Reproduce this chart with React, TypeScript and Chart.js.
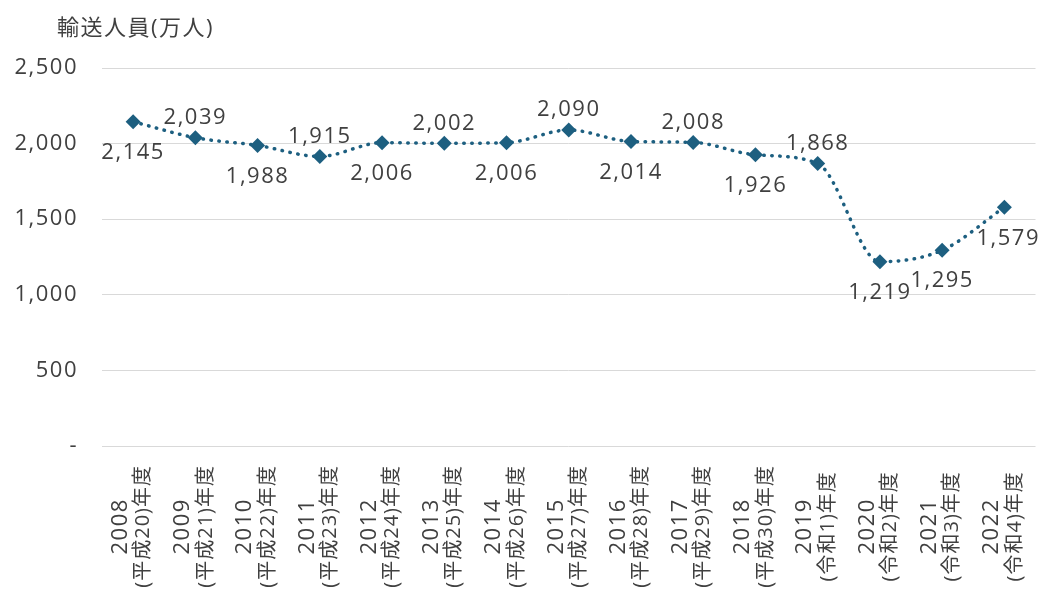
import React, { useEffect, useRef } from "react";
import { Chart, registerables } from "chart.js";

Chart.register(...registerables);

const years = ["2008", "2009", "2010", "2011", "2012", "2013", "2014", "2015", "2016", "2017", "2018", "2019", "2020", "2021", "2022"];
const eras = ["(平成20)年度", "(平成21)年度", "(平成22)年度", "(平成23)年度", "(平成24)年度", "(平成25)年度", "(平成26)年度", "(平成27)年度", "(平成28)年度", "(平成29)年度", "(平成30)年度", "(令和1)年度", "(令和2)年度", "(令和3)年度", "(令和4)年度"];
const passengers = [2145, 2039, 1988, 1915, 2006, 2002, 2006, 2090, 2014, 2008, 1926, 1868, 1219, 1295, 1579];
const labelSide = ["below", "above", "below", "above", "below", "above", "below", "above", "below", "above", "below", "above", "below", "below", "below-right"];
const yTicks = [0, 500, 1000, 1500, 2000, 2500];
const axisTitle = "輸送人員(万人)";

const FONT = "'Open Sans', 'Noto Sans CJK JP', sans-serif";
const FS = 22;
const SPACING = "1.5px";
const TEXT = "#404040";
const LINE = "#1D5F80";

const fmt = (v: number) => (v === 0 ? "-" : v.toLocaleString("en-US"));

const overlay = {
  id: "overlay",
  beforeDraw(chart: any) {
    (chart.ctx as any).letterSpacing = SPACING;
  },
  afterDatasetsDraw(chart: any) {
    const ctx = chart.ctx;
    const meta = chart.getDatasetMeta(0);
    const area = chart.chartArea;
    ctx.save();
    (ctx as any).letterSpacing = SPACING;
    ctx.font = `${FS}px ${FONT}`;
    ctx.fillStyle = TEXT;
    ctx.textAlign = "center";
    ctx.textBaseline = "middle";
    meta.data.forEach((pt: any, i: number) => {
      const txt = fmt(passengers[i]);
      const w = ctx.measureText(txt).width;
      const side = labelSide[i];
      let x = side === "below-right" ? pt.x + 18 : pt.x;
      x = Math.min(x, chart.width - 3 - w / 2);
      const y = side === "above" ? pt.y - 20 : pt.y + 31;
      ctx.fillText(txt, x, y);
    });

    // x labels
    const xs = chart.scales.x;
    const eraFont = `20px ${FONT}`;
    ctx.font = eraFont;
    (ctx as any).letterSpacing = "1px";
    let maxW = 0;
    eras.forEach((e) => (maxW = Math.max(maxW, ctx.measureText(e).width)));
    const cy = area.bottom + 19 + maxW / 2;
    years.forEach((yr, i) => {
      const x = xs.getPixelForTick(i) - 1;
      ctx.save();
      ctx.translate(x, cy);
      ctx.rotate(-Math.PI / 2);
      ctx.font = `${FS}px ${FONT}`;
      (ctx as any).letterSpacing = SPACING;
      ctx.fillText(yr, 0, -11.5);
      ctx.font = eraFont;
      (ctx as any).letterSpacing = "1px";
      ctx.fillText(eras[i], 0, 11.5);
      ctx.restore();
    });

    // axis title
    ctx.font = `${FS}px ${FONT}`;
    (ctx as any).letterSpacing = SPACING;
    ctx.textAlign = "left";
    ctx.fillText(axisTitle, 57, 29);
    ctx.restore();
  },
  afterDraw(chart: any) {
    (chart.ctx as any).letterSpacing = "0px";
  },
};

export default function App() {
  const ref = useRef<HTMLCanvasElement>(null);
  useEffect(() => {
    const chart = new Chart(ref.current!, {
      type: "line",
      data: {
        labels: years.map((y, i) => [y, eras[i]]),
        datasets: [
          {
            data: passengers,
            borderColor: LINE,
            backgroundColor: LINE,
            borderWidth: 3.5,
            borderDash: [0.5, 7.5],
            borderCapStyle: "round",
            cubicInterpolationMode: "monotone",
            pointStyle: "rectRot",
            pointRadius: 7.5,
            pointBorderWidth: 0,
            pointBackgroundColor: LINE,
          },
        ],
      },
      options: {
        animation: false,
        responsive: false,
        layout: { padding: { top: 68, right: 7, bottom: 0, left: 0 } },
        plugins: { legend: { display: false }, tooltip: { enabled: false }, title: { display: false } },
        scales: {
          x: {
            offset: true,
            grid: { display: false },
            border: { display: false },
            ticks: { display: false },
            afterFit: (s: any) => {
              s.height = 147;
            },
          },
          y: {
            min: 0,
            max: 2500,
            afterBuildTicks: (s: any) => {
              s.ticks = yTicks.map((v) => ({ value: v }));
            },
            grid: { color: "#d9d9d9", lineWidth: 1, drawTicks: false },
            border: { display: false },
            ticks: {
              padding: 24,
              color: TEXT,
              font: { family: FONT, size: FS },
              callback: (v: any) => fmt(Number(v)),
            },
            afterFit: (s: any) => {
              s.width = 102;
            },
          },
        },
      },
      plugins: [overlay],
    } as any);
    return () => chart.destroy();
  }, []);
  return (
    <div style={{ position: "absolute", left: 0, top: 0, width: 1043, height: 593, background: "#fff" }}>
      <canvas ref={ref} width={1043} height={593} style={{ width: 1043, height: 593 }} />
    </div>
  );
}
